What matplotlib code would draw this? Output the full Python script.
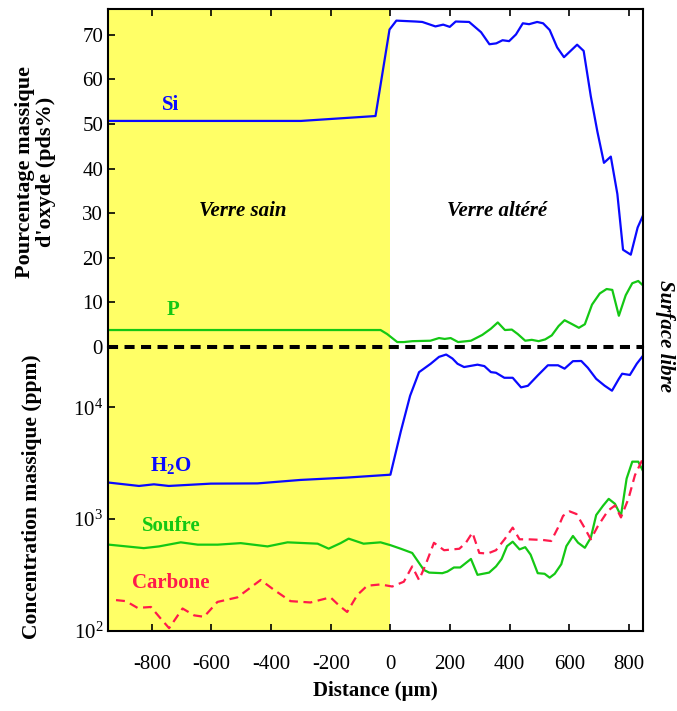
import numpy as np
import matplotlib
matplotlib.use("Agg")
import matplotlib.pyplot as plt
from matplotlib.ticker import FixedLocator, NullLocator

plt.rcParams['font.family'] = ['Liberation Serif', 'DejaVu Serif']
plt.rcParams['mathtext.fontset'] = 'custom'
plt.rcParams['mathtext.rm'] = 'Liberation Serif'
plt.rcParams['mathtext.bf'] = 'Liberation Serif:bold'
plt.rcParams['mathtext.it'] = 'Liberation Serif:italic'

# pourcentage massique d'oxyde (axe du haut)
x_si = [-947, -600, -300, -50, -3, 20, 84, 107, 151, 177, 199, 219, 264, 304, 332, 355,
        376, 398, 421, 444, 465, 492, 512, 534, 559, 582, 626, 648, 672, 694, 716, 739,
        761, 780, 806, 829, 847]
si = [50.7, 50.7, 50.7, 51.8, 71.2, 73.2, 73.0, 72.9, 71.9, 72.3, 71.8, 73.0, 72.9, 70.6,
      67.9, 68.1, 68.8, 68.6, 70.1, 72.6, 72.4, 72.9, 72.6, 71.1, 67.2, 65.0, 67.8, 66.4,
      56.2, 48.3, 41.3, 42.7, 34.3, 21.8, 20.7, 26.8, 29.5]

x_p = [-947, -300, -33, -11, 23, 45, 74, 134, 163, 182, 202, 227, 270, 308, 337, 360, 384,
       407, 427, 452, 474, 497, 519, 541, 564, 584, 607, 632, 652, 676, 702, 725, 744, 766,
       789, 811, 831, 847]
p = [3.8, 3.8, 3.8, 2.9, 1.1, 1.1, 1.3, 1.4, 2.0, 1.8, 2.0, 1.1, 1.4, 2.7, 4.1, 5.5, 3.8,
     3.9, 2.9, 1.4, 1.6, 1.3, 1.7, 2.6, 4.7, 6.0, 5.2, 4.3, 5.1, 9.5, 12.0, 13.0, 12.8, 7.0,
     11.6, 14.3, 14.8, 13.8]

# concentration massique en ppm (axe du bas)
x_h2o = [-944, -843, -793, -743, -602, -446, -301, -145, 0, 35, 66, 96, 135, 163, 187, 208,
         225, 247, 292, 315, 337, 354, 382, 410, 438, 461, 494, 528, 562, 584, 612, 640, 662,
         690, 718, 743, 766, 777, 803, 826, 847]
h2o = [2125, 1983, 2051, 1983, 2080, 2090, 2245, 2357, 2500, 6120, 12700, 20650, 24550,
       28300, 29700, 27350, 24550, 22950, 24100, 23400, 20670, 20400, 18400, 18400, 15100,
       15600, 19300, 23800, 23800, 22200, 25900, 26000, 22600, 18000, 15650, 14100, 18000,
       20000, 19500, 24550, 29000]

x_soufre = [-944, -827, -776, -703, -646, -579, -502, -412, -345, -244, -207, -167, -140,
            -90, -33, 0, 35, 73, 112, 130, 174, 191, 213, 234, 270, 292, 331, 354, 373, 391,
            410, 433, 452, 470, 494, 517, 534, 551, 573, 590, 612, 629, 652, 672, 690, 713,
            732, 753, 773, 792, 811, 831, 847]
soufre = [592, 551, 571, 621, 592, 592, 611, 571, 621, 604, 545, 611, 670, 604, 621, 586,
          544, 499, 352, 333, 329, 340, 370, 370, 441, 318, 333, 378, 441, 574, 629, 537,
          562, 482, 329, 325, 300, 325, 396, 574, 708, 617, 555, 684, 1089, 1320, 1520,
          1372, 1073, 2306, 3270, 3270, 2700]

x_carbone = [-920, -887, -848, -803, -770, -742, -697, -658, -625, -580, -513, -435, -390,
             -335, -268, -201, -173, -145, -111, -78, -33, 6, 45, 73, 96, 118, 146, 180,
             231, 253, 275, 298, 326, 354, 384, 410, 433, 461, 511, 539, 562, 579, 601,
             624, 646, 672, 696, 730, 753, 773, 798, 820, 847]
carbone = [189, 185, 161, 164, 129, 106, 159, 138, 134, 182, 200, 286, 233, 185, 180, 200,
           170, 148, 210, 254, 261, 250, 276, 378, 286, 392, 615, 528, 544, 615, 759, 499,
           493, 528, 668, 841, 661, 661, 652, 638, 841, 1072, 1175, 1112, 883, 661, 871,
           1195, 1325, 1037, 1520, 2477, 3500]

x_ticks = [-800, -600, -400, -200, 0, 200, 400, 600, 800]
y_ticks_haut = [0, 10, 20, 30, 40, 50, 60, 70]
y_ticks_bas = [1e2, 1e3, 1e4]

bleu = '#0a0aff'
vert = '#14c814'
rouge = '#ff1a4b'
jaune = '#ffff66'

fig = plt.figure(figsize=(6.77, 7.11), dpi=100)
ax1 = fig.add_axes([0.1595, 0.512, 0.7903, 0.4753])
ax2 = fig.add_axes([0.1595, 0.1125, 0.7903, 0.3995], sharex=ax1)
ax1.set_zorder(2)

for ax in (ax1, ax2):
    ax.axvspan(-947, 0, color=jaune, lw=0, zorder=0)
    ax.tick_params(direction='in', labelsize=15, length=5, width=1.2)
    for s in ax.spines.values():
        s.set_linewidth(1.5)

ax1.plot(x_si, si, color=bleu, lw=1.6)
ax1.plot(x_p, p, color=vert, lw=1.6)
ax1.axhline(0, color='black', lw=2.9, ls=(0, (2.5, 1.6)), zorder=5, clip_on=False)
ax1.set_xlim(-947, 847)
ax1.set_ylim(0, 75.8)
ax1.yaxis.set_major_locator(FixedLocator(y_ticks_haut))
ax1.spines['bottom'].set_visible(False)
ax1.tick_params(axis='x', top=True, bottom=False, labelbottom=False, labeltop=False)
ax1.tick_params(axis='y', right=False)

ax2.plot(x_h2o, h2o, color=bleu, lw=1.6)
ax2.plot(x_soufre, soufre, color=vert, lw=1.6)
ax2.plot(x_carbone, carbone, color=rouge, lw=1.6, ls=(0, (4, 2.5)))
ax2.set_yscale('log')
ax2.set_ylim(100, 3.47e4)
ax2.yaxis.set_major_locator(FixedLocator(y_ticks_bas))
ax2.yaxis.set_minor_locator(NullLocator())
ax2.set_yticklabels([r'10$^{2}$', r'10$^{3}$', r'10$^{4}$'])
ax2.spines['top'].set_visible(False)
ax2.xaxis.set_major_locator(FixedLocator(x_ticks))
ax2.set_xticklabels([str(v) for v in x_ticks])
ax2.tick_params(axis='x', top=False, bottom=True, pad=17)
ax2.tick_params(axis='y', right=False)

ax1.set_ylabel("Pourcentage massique\nd'oxyde (pds%)", fontsize=16, fontweight='bold',
               linespacing=1.1)
ax1.yaxis.set_label_coords(-0.097, 0.518)
ax2.set_ylabel("Concentration massique (ppm)", fontsize=15.5, fontweight='bold')
ax2.yaxis.set_label_coords(-0.123, 0.472)
ax2.set_xlabel("Distance (µm)", fontsize=15, fontweight='bold', labelpad=5)

ax1.text(-736, 54.2, "Si", color=bleu, fontsize=15, fontweight='bold', ha='center', va='center')
ax1.text(-730, 8.3, "P", color=vert, fontsize=15, fontweight='bold', ha='center', va='center')
ax1.text(-495, 30.5, "Verre sain", fontsize=15, fontweight='bold', style='italic',
         ha='center', va='center')
ax1.text(358, 30.5, "Verre altéré", fontsize=15, fontweight='bold', style='italic',
         ha='center', va='center')

ax2.text(-736, 3000, r"H$_\mathbf{2}$O", color=bleu, fontsize=15, fontweight='bold',
         ha='center', va='center')
ax2.text(-736, 870, "Soufre", color=vert, fontsize=15, fontweight='bold', ha='center', va='center')
ax2.text(-736, 270, "Carbone", color=rouge, fontsize=15, fontweight='bold', ha='center', va='center')

fig.text(0.982, 0.528, "Surface libre", fontsize=15, fontweight='bold', style='italic',
         rotation=-90, ha='center', va='center')

fig.savefig("out.png", dpi=100)
